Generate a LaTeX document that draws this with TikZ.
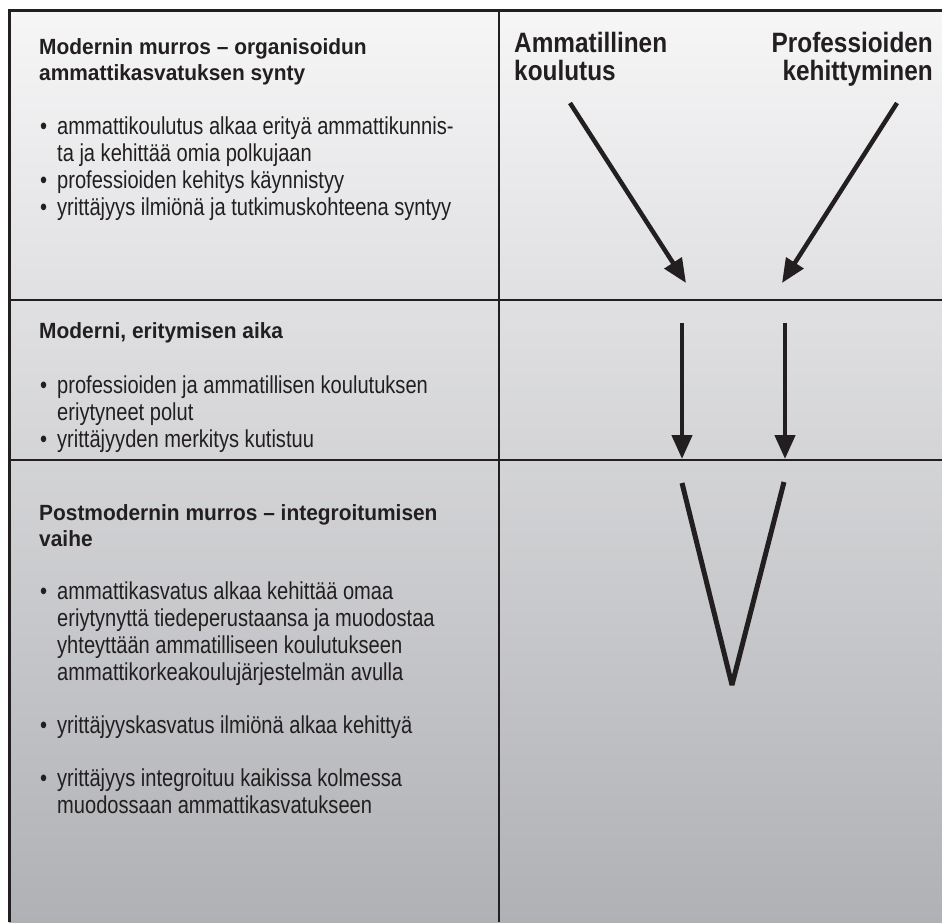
\documentclass[tikz,border=0pt]{standalone}
\usepackage{fontspec}
\setmainfont{Liberation Sans}[FakeStretch=0.82]
\newfontfamily\headfont{Liberation Sans}[FakeStretch=0.95]
\newfontfamily\labelfont{Liberation Sans}[FakeStretch=0.87]
\usetikzlibrary{arrows.meta,positioning}
\definecolor{shtop}{RGB}{246,246,247}
\definecolor{shbot}{RGB}{176,177,181}
\definecolor{ink}{RGB}{35,31,32}
\newcommand{\bul}{\makebox[17pt][l]{•}}
\newcommand{\cont}{\hspace*{17pt}}
\tikzset{
  head/.style={font=\headfont\bfseries\fontsize{22}{26}\selectfont, anchor=north west, align=left, inner sep=0pt, text=ink},
  body/.style={font=\fontsize{24.5}{26.7}\selectfont, anchor=north west, align=left, inner sep=0pt, text=ink},
  flowlabel/.style={font=\labelfont\bfseries\fontsize{28}{28}\selectfont, inner sep=0pt, text=ink},
  rule/.style={draw=ink, line width=2pt},
  flow/.style={draw=ink, line width=4.5pt, -{Triangle[length=24pt,width=20pt]}}
}
\begin{document}
\begin{tikzpicture}[x=1pt,y=1pt]
	\useasboundingbox (0,0) rectangle (942,-922);
	\shade[top color=shtop,bottom color=shbot] (9,-10) rectangle (942,-922);
	% table rules
	\draw[rule] (499,-10) -- (499,-922);
	\draw[rule] (9,-300) -- (942,-300);
	\draw[rule] (9,-460) -- (942,-460);
	\draw[rule,line width=3pt] (9,-922) -- (9,-10) -- (942,-10);
	% left column
	\node[head] (era1) at (39,-38) {Modernin murros – organisoidun\\ammattikasvatuksen synty};
	\node[body] (list1) at (40,-117) {\bul ammattikoulutus alkaa erityä ammattikunnis-\\
		\cont ta ja kehittää omia polkujaan\\
		\bul professioiden kehitys käynnistyy\\
		\bul yrittäjyys ilmiönä ja tutkimuskohteena syntyy};
	\node[head] (era2) at (39,-322) {Moderni, eritymisen aika};
	\node[body] (list2) at (40,-376) {\bul professioiden ja ammatillisen koulutuksen\\
		\cont eriytyneet polut\\
		\bul yrittäjyyden merkitys kutistuu};
	\node[head] (era3) at (39,-504) {Postmodernin murros – integroitumisen\\vaihe};
	\node[body] (list3) at (40,-582) {\bul ammattikasvatus alkaa kehittää omaa\\
		\cont eriytynyttä tiedeperustaansa ja muodostaa\\
		\cont yhteyttään ammatilliseen koulutukseen\\
		\cont ammattikorkeakoulujärjestelmän avulla\\[26.7pt]
		\bul yrittäjyyskasvatus ilmiönä alkaa kehittyä\\[26.7pt]
		\bul yrittäjyys integroituu kaikissa kolmessa\\
		\cont muodossaan ammattikasvatukseen};
	% right column
	\node[flowlabel, anchor=north west, align=left] (voc) at (514,-32) {Ammatillinen\\koulutus};
	\node[flowlabel, anchor=north east, align=right] (prof) at (933,-32) {Professioiden\\kehittyminen};
	\coordinate (voc1) at (570,-103);
	\coordinate (voc2) at (686,-283);
	\coordinate (prof1) at (897,-103);
	\coordinate (prof2) at (782,-283);
	\coordinate (voc3) at (682,-323);
	\coordinate (voc4) at (682,-459);
	\coordinate (prof3) at (785,-323);
	\coordinate (prof4) at (785,-459);
	\coordinate (vl) at (682,-483);
	\coordinate (vm) at (732,-685);
	\coordinate (vr) at (784,-482);
	\draw[flow] (voc1) -- (voc2);
	\draw[flow] (prof1) -- (prof2);
	\draw[flow] (voc3) -- (voc4);
	\draw[flow] (prof3) -- (prof4);
	\draw[ink,line width=5pt,line join=bevel] (vl) -- (vm) -- (vr);
\end{tikzpicture}
\end{document}
